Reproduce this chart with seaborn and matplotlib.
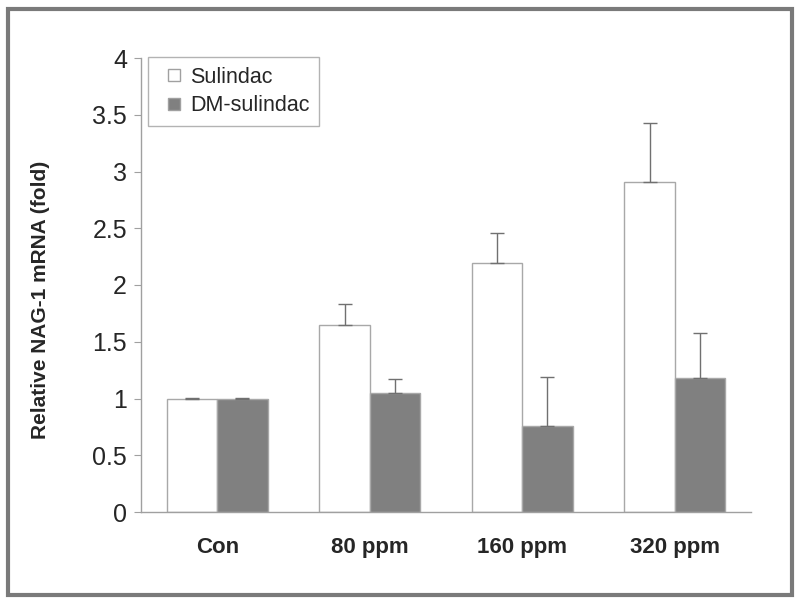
import matplotlib
matplotlib.use("Agg")
import matplotlib.pyplot as plt
import seaborn as sns
import pandas as pd
import numpy as np
from matplotlib.patches import Rectangle
from matplotlib.lines import Line2D

groups = ["Con", "80 ppm", "160 ppm", "320 ppm"]
series = ["Sulindac", "DM-sulindac"]
sulindac = [1.0, 1.65, 2.19, 2.91]
sulindac_err = [0.005, 0.18, 0.27, 0.52]
dm_sulindac = [1.0, 1.05, 0.76, 1.18]
dm_sulindac_err = [0.005, 0.12, 0.43, 0.40]
yticks = [0, 0.5, 1, 1.5, 2, 2.5, 3, 3.5, 4]
ytick_labels = ["0", "0.5", "1", "1.5", "2", "2.5", "3", "3.5", "4"]

df = pd.DataFrame({
    "group": groups * 2,
    "series": [series[0]] * 4 + [series[1]] * 4,
    "value": sulindac + dm_sulindac,
})

sns.set_style("white")
plt.rcParams["font.family"] = ["Liberation Sans", "DejaVu Sans"]

fig = plt.figure(figsize=(8.0, 6.04), dpi=100)
ax = fig.add_axes([141 / 800, 1 - 512 / 604, (751 - 141) / 800, (512 - 58) / 604])

palette = {"Sulindac": "#ffffff", "DM-sulindac": "#808080"}
sns.barplot(data=df, x="group", y="value", hue="series", order=groups,
            hue_order=series, palette=palette, width=0.66, ax=ax,
            edgecolor="#a8a8a8", linewidth=1.0, errorbar=None, legend=False)

# error bars (upward only)
errs = {"Sulindac": sulindac_err, "DM-sulindac": dm_sulindac_err}
vals = {"Sulindac": sulindac, "DM-sulindac": dm_sulindac}
patches = ax.patches
for si, s in enumerate(series):
    for gi in range(len(groups)):
        p = patches[si * len(groups) + gi]
        xc = p.get_x() + p.get_width() / 2
        ax.errorbar([xc], [vals[s][gi]], yerr=[[0], [errs[s][gi]]],
                    fmt="none", ecolor="#707070", elinewidth=1.0,
                    capsize=5, capthick=1.0)

ax.set_xlim(-0.5, 3.5)
ax.set_ylim(0, 4)
ax.set_yticks(yticks)
ax.set_yticklabels(ytick_labels, fontsize=18)
ax.set_xticks([-0.5, 0.5, 1.5, 2.5, 3.5], minor=True)
ax.set_xticks(range(len(groups)))
ax.set_xticklabels(groups, fontsize=16, fontweight="bold")
ax.tick_params(axis="x", which="major", length=0, pad=18)
ax.tick_params(axis="x", which="minor", length=4, color="#a0a0a0", direction="out")
ax.tick_params(axis="y", length=5, color="#a0a0a0", direction="out", pad=5, left=True)
ax.set_xlabel("")
ax.set_ylabel("Relative NAG-1 mRNA (fold)", fontsize=15, fontweight="bold",
              va="center")
ax.yaxis.set_label_coords(-0.164, 0.467)

for side in ["top", "right"]:
    ax.spines[side].set_visible(False)
for side in ["left", "bottom"]:
    ax.spines[side].set_color("#a0a0a0")
    ax.spines[side].set_linewidth(1.0)

handles = [Line2D([], [], linestyle="none", marker="s", markersize=8,
                  markerfacecolor=palette[s], markeredgecolor="#a0a0a0",
                  markeredgewidth=1.0) for s in series]
leg = ax.legend(handles, series, loc="upper left", bbox_to_anchor=(0.0115, 1.002),
                fontsize=15.5, frameon=True, fancybox=False, handlelength=1.5,
                handletextpad=0.0, borderpad=0.45,
                labelspacing=0.35, borderaxespad=0.0)
leg.get_frame().set_edgecolor("#a0a0a0")
leg.get_frame().set_linewidth(1.0)

# outer frame
fig.patches.append(Rectangle((8 / 800, 9 / 604), 784 / 800, 586 / 604,
                             transform=fig.transFigure, fill=False,
                             edgecolor="#7a7a7a", linewidth=3))

fig.savefig("out.png", dpi=100)
